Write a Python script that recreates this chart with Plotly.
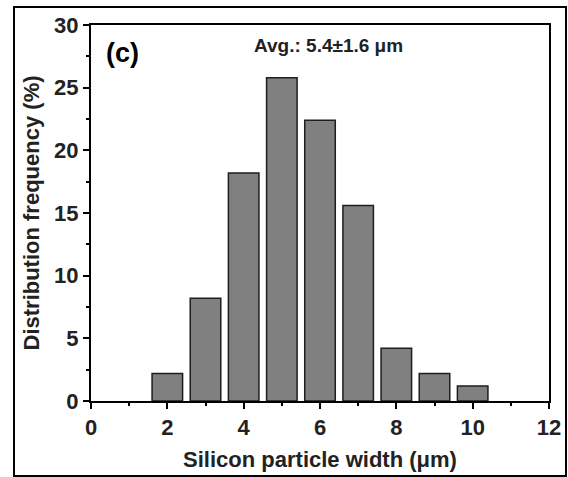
import plotly.graph_objects as go

widths = [2, 3, 4, 5, 6, 7, 8, 9, 10]
freq = [2.2, 8.2, 18.2, 25.8, 22.4, 15.6, 4.2, 2.2, 1.2]
x_ticks = [0, 2, 4, 6, 8, 10, 12]
y_ticks = [0, 5, 10, 15, 20, 25, 30]

FONT = "Liberation Sans, Arial, sans-serif"
L, R, T, B = 91, 19, 25, 76
W, H = 568, 477
pw = W - L - R
ph = H - T - B

fig = go.Figure()
fig.add_trace(go.Bar(
    x=widths, y=freq, width=0.8,
    marker=dict(color="#808080", line=dict(color="#1e1e1e", width=1.5)),
    showlegend=False,
))

axis_common = dict(
    showline=True, linecolor="black", linewidth=2, mirror=True,
    ticks="outside", ticklen=6, tickwidth=2, tickcolor="black",
    showgrid=False, zeroline=False, automargin=False,
    tickfont=dict(family=FONT, size=22, color="#222"),
)

fig.update_xaxes(
    range=[0, 12], tickvals=x_ticks, ticktext=[f"<b>{v}</b>" for v in x_ticks],
    minor=dict(ticks="outside", ticklen=3, tickwidth=2, dtick=1, tick0=0, tickcolor="black", showgrid=False),
    title=dict(text="<b>Silicon particle width (μm)</b>", standoff=12,
               font=dict(family=FONT, size=22, color="#222")),
    **axis_common,
)
fig.update_yaxes(
    range=[0, 30], tickvals=y_ticks, ticktext=[f"<b>{v}</b>" for v in y_ticks],
    minor=dict(ticks="outside", ticklen=3, tickwidth=2, dtick=2.5, tick0=0, tickcolor="black", showgrid=False),
    title=dict(text="<b>Distribution frequency (%)</b>", standoff=8,
               font=dict(family=FONT, size=22, color="#222")),
    **axis_common,
)

fig.add_annotation(x=(122 - L) / pw, y=(H - B - 53) / ph, xref="paper", yref="paper",
                   xanchor="center", yanchor="middle",
                   text="<b>(c)</b>", showarrow=False,
                   font=dict(family=FONT, size=27, color="black"))
fig.add_annotation(x=(328 - L) / pw, y=(H - B - 45) / ph, xref="paper", yref="paper",
                   xanchor="center", yanchor="middle",
                   text="<b>Avg.: 5.4±1.6 μm</b>", showarrow=False,
                   font=dict(family=FONT, size=19, color="#222"))

# outer frame around the whole figure
fig.add_shape(type="rect", xref="paper", yref="paper",
              x0=(14 - L) / pw, x1=(566 - L) / pw,
              y0=(H - B - 476) / ph, y1=(H - B - 7) / ph,
              line=dict(color="black", width=2))

fig.update_layout(
    width=W, height=H,
    margin=dict(l=L, r=R, t=T, b=B),
    plot_bgcolor="white", paper_bgcolor="white",
    bargap=0.2,
)

fig.write_html("out.html")
